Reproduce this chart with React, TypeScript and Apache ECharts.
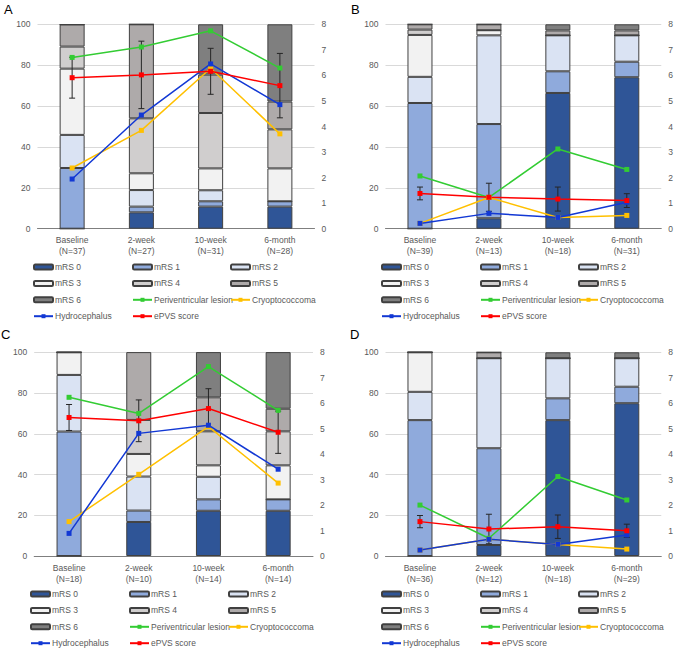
import React, { useEffect, useRef } from 'react';
import * as echarts from 'echarts';

const categories = ['Baseline', '2-week', '10-week', '6-month'];
const nA = [37, 27, 31, 28];
const nB = [39, 13, 18, 31];
const nC = [18, 10, 14, 14];
const nD = [36, 12, 18, 29];

const mrsNames = ['mRS 0', 'mRS 1', 'mRS 2', 'mRS 3', 'mRS 4', 'mRS 5', 'mRS 6'];
const lineNames = ['Periventricular lesion', 'Cryoptococcoma', 'Hydrocephalus', 'ePVS score'];

// mRS distribution (%) per level across the four time points
const mrsA = [
  [0, 8.0, 10.8, 10.8],
  [29.7, 2.8, 2.6, 2.6],
  [16.2, 8.1, 5.4, 0],
  [32.4, 8.2, 10.7, 16.1],
  [10.8, 26.9, 27.1, 19.1],
  [10.8, 46.0, 18.8, 13.6],
  [0, 0, 24.6, 37.8],
];
const mrsB = [
  [0, 5.1, 66.4, 74.1],
  [61.5, 46.1, 10.6, 7.6],
  [12.8, 43.4, 17.6, 12.9],
  [20.5, 2.5, 0, 0],
  [2.6, 0, 0, 0],
  [2.6, 2.9, 2.4, 2.4],
  [0, 0, 3.0, 3.0],
];
const mrsC = [
  [0, 16.7, 22.2, 22.2],
  [61.1, 5.6, 5.6, 5.6],
  [27.8, 16.7, 11.1, 0],
  [11.1, 11.1, 5.6, 16.7],
  [0, 16.7, 16.7, 16.7],
  [0, 33.3, 16.7, 11.1],
  [0, 0, 22.2, 27.8],
];
const mrsD = [
  [0, 5.4, 66.7, 75.0],
  [66.7, 47.5, 10.7, 8.1],
  [13.9, 44.2, 19.7, 14.0],
  [19.4, 0, 0, 0],
  [0, 0, 0, 0],
  [0, 2.9, 0, 0],
  [0, 0, 2.9, 2.9],
];

// Line series (% on left axis), ePVS score on right axis
const periA = [83.8, 88.9, 96.8, 78.6];
const cryoA = [29.7, 48.1, 78.5, 46.4];
const hydroA = [24.3, 55.6, 80.6, 60.7];
const epvsA = [5.91, 6.02, 6.16, 5.6];
const epvsErrA = [0.8, 1.32, 0.9, 1.26];

const periB = [25.8, 15.3, 39.0, 29.0];
const cryoB = [2.6, 15.3, 5.5, 6.5];
const hydroB = [2.6, 7.5, 5.5, 12.9];
const epvsB = [1.38, 1.23, 1.16, 1.1];
const epvsErrB = [0.25, 0.55, 0.47, 0.27];

const periC = [77.9, 70.0, 93.0, 71.5];
const cryoC = [16.9, 40.1, 63.5, 35.8];
const hydroC = [11.1, 60.2, 64.2, 42.6];
const epvsC = [5.44, 5.31, 5.79, 4.86];
const epvsErrC = [0.51, 0.82, 0.78, 0.83];

const periD = [25.0, 8.7, 39.0, 27.5];
const cryoD = [2.9, 8.2, 5.7, 3.4];
const hydroD = [2.9, 8.2, 5.7, 10.3];
const epvsD = [1.35, 1.06, 1.15, 0.99];
const epvsErrD = [0.24, 0.58, 0.46, 0.26];

const mrsColors = ['#2F5597', '#8FAADC', '#DAE3F3', '#F2F2F2', '#D0CECE', '#AEAAAA', '#7F7F7F'];
const lineColors = ['#33CC33', '#FFC000', '#1238D4', '#FF0000'];

const FONT = 'Liberation Sans';

const panels = [
  { letter: 'A', n: nA, mrs: mrsA, lines: [periA, cryoA, hydroA, epvsA], err: epvsErrA,
    grid: { left: 37.5, top: 24.3, width: 277, height: 204.4 }, letterPos: [4, 3],
    legendLeft: [33, 132, 230], legendTop: 261 },
  { letter: 'B', n: nB, mrs: mrsB, lines: [periB, cryoB, hydroB, epvsB], err: epvsErrB,
    grid: { left: 385.5, top: 24.3, width: 277.5, height: 204.4 }, letterPos: [351, 3],
    legendLeft: [381, 480, 578], legendTop: 261 },
  { letter: 'C', n: nC, mrs: mrsC, lines: [periC, cryoC, hydroC, epvsC], err: epvsErrC,
    grid: { left: 34.2, top: 352.3, width: 278.8, height: 203.7 }, letterPos: [1, 328],
    legendLeft: [30, 129, 228], legendTop: 588 },
  { letter: 'D', n: nD, mrs: mrsD, lines: [periD, cryoD, hydroD, epvsD], err: epvsErrD,
    grid: { left: 385.5, top: 352.3, width: 277.5, height: 203.7 }, letterPos: [350, 328],
    legendLeft: [381, 480, 578], legendTop: 588 },
];

const legendCols = [
  ['mRS 0', 'mRS 3', 'mRS 6', 'Hydrocephalus'],
  ['mRS 1', 'mRS 4', 'Periventricular lesion', 'ePVS score'],
  ['mRS 2', 'mRS 5', 'Cryoptococcoma'],
];

function buildOption() {
  const grid: any[] = [];
  const xAxis: any[] = [];
  const yAxis: any[] = [];
  const series: any[] = [];
  const legend: any[] = [];
  const graphic: any[] = [];

  panels.forEach((p, i) => {
    grid.push({ ...p.grid, containLabel: false });
    xAxis.push({
      type: 'category', gridIndex: i,
      data: categories.map((c, j) => `${c}\n(N=${p.n[j]})`),
      axisTick: { show: false },
      axisLine: { lineStyle: { color: '#7F7F7F', width: 1 } },
      axisLabel: { color: '#595959', fontSize: 8.5, fontFamily: FONT, lineHeight: 11, margin: 6 },
    });
    yAxis.push({
      type: 'value', gridIndex: i, min: 0, max: 100, interval: 20, position: 'left',
      axisLine: { show: false }, axisTick: { show: false },
      splitLine: { lineStyle: { color: '#D9D9D9', width: 1 } },
      axisLabel: { color: '#595959', fontSize: 8.5, fontFamily: FONT, margin: 7 },
    });
    yAxis.push({
      type: 'value', gridIndex: i, min: 0, max: 8, interval: 1, position: 'right',
      axisLine: { show: false }, axisTick: { show: false }, splitLine: { show: false },
      axisLabel: { color: '#595959', fontSize: 8.5, fontFamily: FONT, margin: 7 },
    });

    mrsNames.forEach((name, k) => {
      series.push({
        type: 'bar', name, xAxisIndex: i, yAxisIndex: 2 * i, stack: 'mrs' + i,
        barWidth: 25, data: p.mrs[k],
        itemStyle: { color: mrsColors[k], borderColor: '#404040', borderWidth: 1 },
        z: 2,
      });
    });

    const errData = p.lines[3].map((v, j) => [j, v - p.err[j], v + p.err[j]]);
    series.push({
      type: 'custom', xAxisIndex: i, yAxisIndex: 2 * i + 1, z: 3, silent: true,
      data: errData, encode: { x: 0, y: [1, 2] },
      renderItem: (params: any, api: any) => {
        const x = api.value(0);
        const lo = api.coord([x, api.value(1)]);
        const hi = api.coord([x, api.value(2)]);
        const w = 3;
        const st = { stroke: '#262626', lineWidth: 1 };
        return {
          type: 'group',
          children: [
            { type: 'line', shape: { x1: lo[0], y1: lo[1], x2: hi[0], y2: hi[1] }, style: st },
            { type: 'line', shape: { x1: lo[0] - w, y1: lo[1], x2: lo[0] + w, y2: lo[1] }, style: st },
            { type: 'line', shape: { x1: hi[0] - w, y1: hi[1], x2: hi[0] + w, y2: hi[1] }, style: st },
          ],
        };
      },
    });

    lineNames.forEach((name, k) => {
      series.push({
        type: 'line', name, xAxisIndex: i, yAxisIndex: k === 3 ? 2 * i + 1 : 2 * i,
        data: p.lines[k], symbol: 'rect', symbolSize: 5,
        lineStyle: { color: lineColors[k], width: 1.5 },
        itemStyle: { color: lineColors[k] },
        z: 4,
      });
    });

    legendCols.forEach((col, c) => {
      legend.push({
        orient: 'vertical', left: p.legendLeft[c], top: p.legendTop, padding: 0,
        itemWidth: 19, itemHeight: 5, itemGap: 4.4,
        textStyle: { color: '#595959', fontSize: 8.5, fontFamily: FONT, lineHeight: 12, padding: [0, 0, 0, -3] },
        data: col,
        selectedMode: false,
      });
    });

    graphic.push({
      type: 'text', left: p.letterPos[0], top: p.letterPos[1],
      style: { text: p.letter, fontSize: 13, fontFamily: FONT, fill: '#000' },
    });
  });

  return { animation: false, grid, xAxis, yAxis, series, legend, graphic };
}

export default function App() {
  const ref = useRef<HTMLDivElement>(null);
  useEffect(() => {
    document.body.style.margin = '0';
    const chart = echarts.init(ref.current!, null, { renderer: 'svg' });
    chart.setOption(buildOption() as any);
    return () => chart.dispose();
  }, []);
  return <div ref={ref} style={{ width: 676, height: 650, background: '#fff' }} />;
}
